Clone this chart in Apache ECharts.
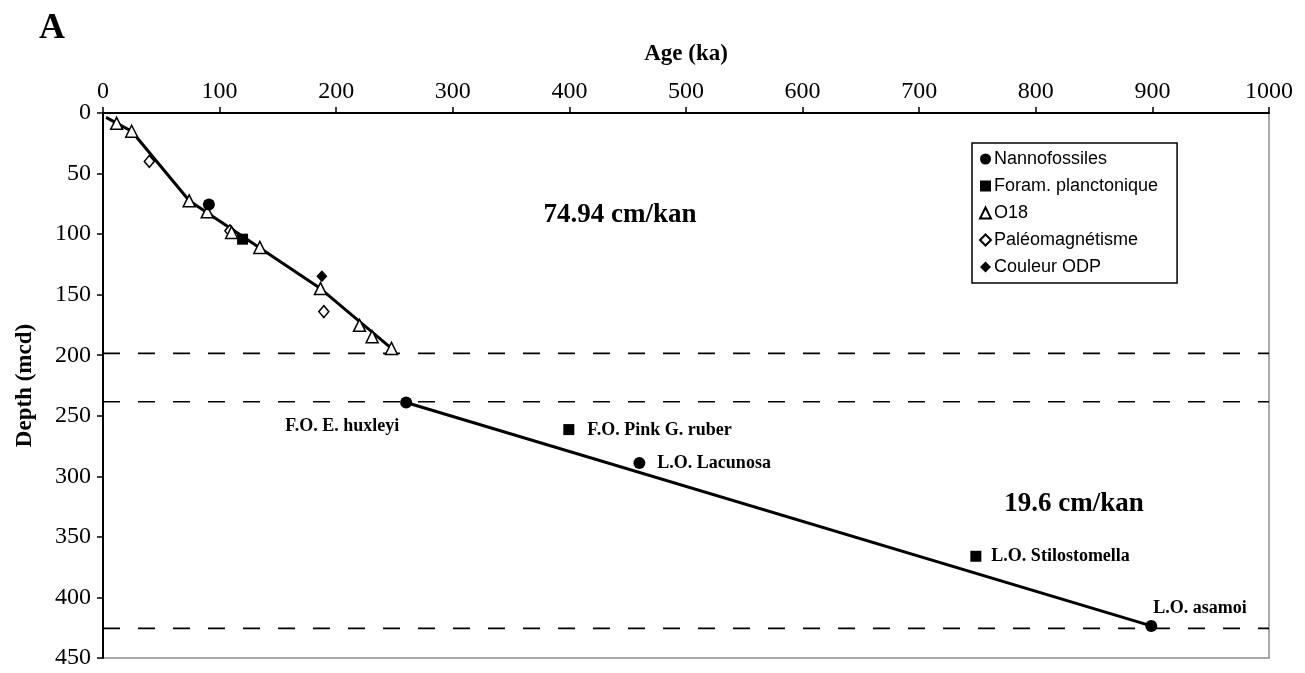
<!DOCTYPE html>
<html>
<head>
<meta charset="utf-8">
<script src="https://cdn.jsdelivr.net/npm/echarts@6/dist/echarts.min.js"></script>
<style>
html,body{margin:0;padding:0;background:#fff;}
#chart{width:1305px;height:673px;}
</style>
</head>
<body>
<div id="chart"></div>
<script>
// ---- data (age in ka, depth in mcd) ----
const nannoAge = [90.8, 260, 460, 899];
const nannoDepth = [75.5, 239, 289, 423.5];
const nannoLabels = ['', 'F.O. E. huxleyi', 'L.O. Lacunosa', 'L.O. asamoi'];

const foramAge = [119.7, 399.5, 748.6];
const foramDepth = [104.2, 261.4, 366];
const foramLabels = ['', 'F.O. Pink G. ruber', 'L.O. Stilostomella'];

const o18Age = [11.7, 24.6, 73.9, 89.4, 110.3, 134.5, 186.5, 220, 230.8, 247.4];
const o18Depth = [8.5, 15.1, 72.5, 81.6, 98.7, 111, 145, 175.3, 184.7, 194.4];

const paleoAge = [39.7, 108.8, 189.4];
const paleoDepth = [40, 97.3, 164];

const odpAge = [187.7];
const odpDepth = [134.8];

const upperLineAge = [2.6, 24.6, 74, 186.5, 247.4];
const upperLineDepth = [3.6, 15.1, 72.5, 145, 194.4];

const lowerLineAge = [260, 899];
const lowerLineDepth = [239, 423.5];

const dashedDepths = [198.5, 238.4, 425.5];

const xTicks = [0, 100, 200, 300, 400, 500, 600, 700, 800, 900, 1000];
const yTicks = [0, 50, 100, 150, 200, 250, 300, 350, 400, 450];

const seriesNames = ['Nannofossiles', 'Foram. planctonique', 'O18', 'Paléomagnétisme', 'Couleur ODP'];
const rateTexts = ['74.94 cm/kan', '19.6 cm/kan'];
const panelLetter = 'A';

// ---- build ----
const SERIF = '"Liberation Serif", "Times New Roman", serif';
const SANS = '"Liberation Sans", Arial, sans-serif';

const labelPlacement = {
  'F.O. E. huxleyi': {position: 'left', distance: 1, offset: [0, 24]},
  'L.O. Lacunosa': {position: 'right', distance: 12, offset: [0, 0]},
  'L.O. asamoi': {position: 'right', distance: 5, offset: [-9, -18]},
  'F.O. Pink G. ruber': {position: 'right', distance: 13, offset: [0, 1]},
  'L.O. Stilostomella': {position: 'right', distance: 10, offset: [0, 0]}
};

function pts(ages, depths, labels) {
  return ages.map((a, i) => {
    const item = {value: [a, depths[i]]};
    const t = labels ? labels[i] : '';
    if (t) {
      const p = labelPlacement[t] || {position: 'right', distance: 8, offset: [0, 0]};
      item.label = {
        show: true, formatter: t, position: p.position, distance: p.distance, offset: p.offset,
        fontFamily: SERIF, fontWeight: 'bold', fontSize: 18, color: '#000'
      };
    }
    return item;
  });
}

const series = [];
// regression lines
series.push({
  type: 'line', name: 'upper', data: upperLineAge.map((a, i) => [a, upperLineDepth[i]]),
  showSymbol: false, symbol: 'none', lineStyle: {color: '#000', width: 3}, z: 2, silent: true
});
series.push({
  type: 'line', name: 'lower', data: lowerLineAge.map((a, i) => [a, lowerLineDepth[i]]),
  showSymbol: false, symbol: 'none', lineStyle: {color: '#000', width: 3}, z: 2, silent: true
});
// dashed boundaries
dashedDepths.forEach((d, k) => {
  series.push({
    type: 'line', name: 'dash' + k, data: [[xTicks[0], d], [xTicks[xTicks.length - 1], d]],
    showSymbol: false, symbol: 'none',
    lineStyle: {color: '#000', width: 1.6, type: [17, 18]}, z: 1, silent: true
  });
});
// scatter markers
series.push({
  type: 'scatter', name: seriesNames[0], symbol: 'circle', symbolSize: 12,
  itemStyle: {color: '#000', opacity: 1}, data: pts(nannoAge, nannoDepth, nannoLabels), z: 5
});
series.push({
  type: 'scatter', name: seriesNames[1], symbol: 'rect', symbolSize: 11,
  itemStyle: {color: '#000', opacity: 1}, data: pts(foramAge, foramDepth, foramLabels), z: 5
});
series.push({
  type: 'scatter', name: seriesNames[2], symbol: 'triangle', symbolSize: 12,
  itemStyle: {color: '#fff', borderColor: '#000', borderWidth: 1.5, opacity: 1}, data: pts(o18Age, o18Depth), z: 4
});
series.push({
  type: 'scatter', name: seriesNames[3], symbol: 'diamond', symbolSize: [10, 12],
  itemStyle: {color: '#fff', borderColor: '#000', borderWidth: 1.5, opacity: 1}, data: pts(paleoAge, paleoDepth), z: 3
});
series.push({
  type: 'scatter', name: seriesNames[4], symbol: 'diamond', symbolSize: [11, 12],
  itemStyle: {color: '#000', opacity: 1}, data: pts(odpAge, odpDepth), z: 5
});

const chart = echarts.init(document.getElementById('chart'), null, {renderer: 'canvas'});
chart.setOption({
  animation: false,
  backgroundColor: '#fff',
  grid: {left: 103, right: 36, top: 113, bottom: 15, show: true, borderColor: '#8c8c8c', borderWidth: 1.5, backgroundColor: 'transparent'},
  xAxis: {
    type: 'value', position: 'top', min: xTicks[0], max: xTicks[xTicks.length - 1], interval: 100,
    name: 'Age (ka)', nameLocation: 'middle', nameGap: 47,
    nameTextStyle: {fontFamily: SERIF, fontWeight: 'bold', fontSize: 23, color: '#000'},
    axisLine: {show: true, onZero: false, lineStyle: {color: '#000', width: 2}},
    axisTick: {show: true, inside: false, length: 6, lineStyle: {color: '#000', width: 1.5}},
    axisLabel: {fontFamily: SERIF, fontSize: 24, color: '#000', margin: 9, formatter: v => String(v)},
    splitLine: {show: false}
  },
  yAxis: {
    type: 'value', inverse: true, min: yTicks[0], max: yTicks[yTicks.length - 1], interval: 50,
    name: 'Depth (mcd)', nameLocation: 'middle', nameGap: 66, nameRotate: 90,
    nameTextStyle: {fontFamily: SERIF, fontWeight: 'bold', fontSize: 23, color: '#000'},
    axisLine: {show: true, onZero: false, lineStyle: {color: '#000', width: 2}},
    axisTick: {show: true, inside: false, length: 6, lineStyle: {color: '#000', width: 1.5}},
    axisLabel: {fontFamily: SERIF, fontSize: 24, color: '#000', margin: 12, formatter: v => String(v)},
    splitLine: {show: false}
  },
  legend: {
    data: seriesNames, orient: 'vertical', left: 972, top: 143,
    padding: [7, 19, 7, 7], itemGap: 9, itemWidth: 11, itemHeight: 11,
    backgroundColor: '#fff', borderColor: '#000', borderWidth: 1.5,
    textStyle: {fontFamily: SANS, fontSize: 18, color: '#000', lineHeight: 18, padding: [0, 0, 0, -2]},
    selectedMode: false
  },
  graphic: [
    {type: 'text', left: 39, top: 11, style: {text: panelLetter, font: 'bold 36px ' + SERIF, fill: '#000'}},
    {type: 'text', x: 620, y: 215, style: {text: rateTexts[0], font: 'bold 27px ' + SERIF, fill: '#000', textAlign: 'center', textVerticalAlign: 'middle'}},
    {type: 'text', x: 1074, y: 504, style: {text: rateTexts[1], font: 'bold 27px ' + SERIF, fill: '#000', textAlign: 'center', textVerticalAlign: 'middle'}}
  ],
  series: series
});
</script>
</body>
</html>
